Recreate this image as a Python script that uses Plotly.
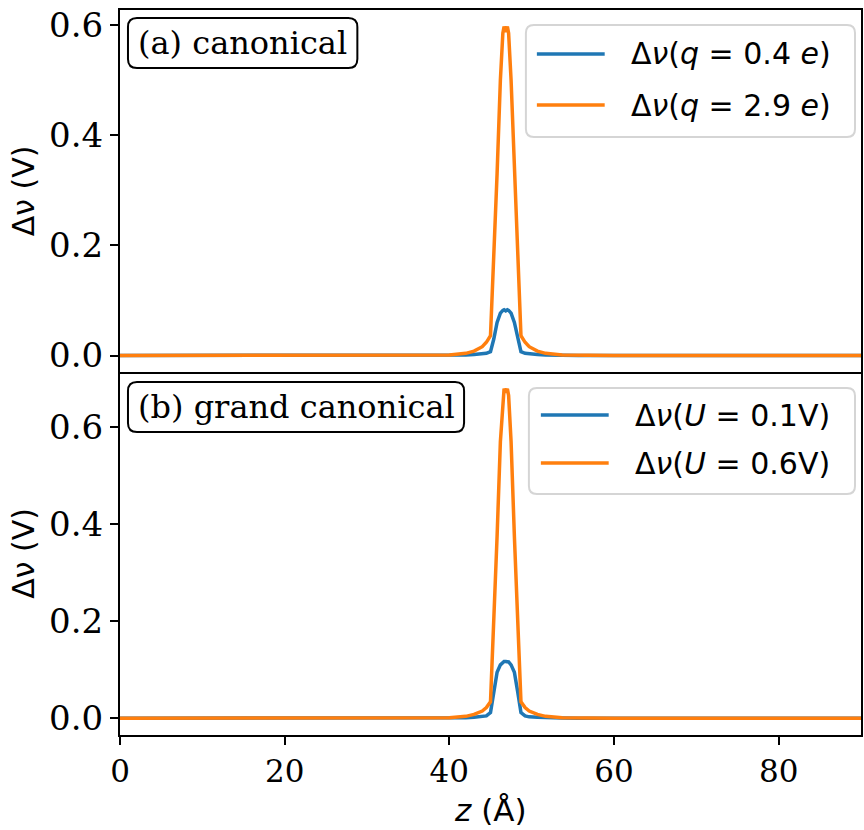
import plotly.graph_objects as go
from plotly.subplots import make_subplots

# ---------------- data ----------------
z = [0, 30, 38, 40, 42, 43, 44, 44.5, 45.0, 45.4, 45.8, 46.2, 46.5, 46.65, 46.85,
     47.05, 47.2, 47.5, 47.9, 48.3, 48.7, 49.2, 49.7, 50.7, 51.7, 53.7, 55.7, 60, 90]

dv_q04 = [0, 0, 0, 0.0003, 0.001, 0.002, 0.003, 0.004, 0.007, 0.03, 0.06, 0.077, 0.082,
          0.083, 0.081, 0.083, 0.082, 0.077, 0.06, 0.03, 0.007, 0.004, 0.003, 0.002,
          0.001, 0.0003, 0, 0, 0]
dv_q29 = [0, 0, 0.0003, 0.001, 0.004, 0.008, 0.016, 0.024, 0.036, 0.17, 0.33, 0.50,
          0.585, 0.597, 0.587, 0.597, 0.585, 0.50, 0.33, 0.17, 0.036, 0.024, 0.016,
          0.008, 0.004, 0.001, 0.0003, 0, 0]
dv_U01 = [0, 0, 0, 0.0005, 0.001, 0.002, 0.003, 0.005, 0.012, 0.055, 0.095, 0.11,
          0.116, 0.117, 0.117, 0.117, 0.116, 0.11, 0.095, 0.055, 0.012, 0.005, 0.003,
          0.002, 0.001, 0.0005, 0, 0, 0]
dv_U06 = [0, 0, 0.0003, 0.001, 0.004, 0.008, 0.015, 0.022, 0.034, 0.19, 0.375, 0.57,
          0.665, 0.679, 0.671, 0.679, 0.665, 0.57, 0.375, 0.19, 0.034, 0.022, 0.015,
          0.008, 0.004, 0.001, 0.0003, 0, 0]

labels_a = ["Δ<i>ν</i>(<i>q</i> = 0.4 <i>e</i>)", "Δ<i>ν</i>(<i>q</i> = 2.9 <i>e</i>)"]
labels_b = ["Δ<i>ν</i>(<i>U</i> = 0.1V)", "Δ<i>ν</i>(<i>U</i> = 0.6V)"]
panel_titles = ["(a) canonical", "(b) grand canonical"]
y_ticks = [0.0, 0.2, 0.4, 0.6]
x_ticks = [0, 20, 40, 60, 80]

BLUE = "#1f77b4"
ORANGE = "#ff7f0e"

# ---------------- geometry (page pixels) ----------------
W, H = 864, 830
PL, PR, PT, PB = 120, 863, 10, 735          # plot area in page pixels
L, T, R, B = PL, PT, W - PR, H - PB
PW, PH = PR - PL, PB - PT


def px(xp):
    return (xp - PL) / PW


def py(yp):
    return (PB - yp) / PH


def rounded_box(x0, y0, x1, y1, r):
    rx, ry = r / PW, r / PH
    X0, X1 = px(x0), px(x1)
    Ytop, Ybot = py(y0), py(y1)
    return (f"M {X0+rx},{Ytop} L {X1-rx},{Ytop} Q {X1},{Ytop} {X1},{Ytop-ry} "
            f"L {X1},{Ybot+ry} Q {X1},{Ybot} {X1-rx},{Ybot} "
            f"L {X0+rx},{Ybot} Q {X0},{Ybot} {X0},{Ybot+ry} "
            f"L {X0},{Ytop-ry} Q {X0},{Ytop} {X0+rx},{Ytop} Z")


split = py(372)

fig = make_subplots(rows=2, cols=1, shared_xaxes=True, vertical_spacing=0)

fig.add_trace(go.Scatter(x=z, y=dv_q04, mode="lines", line=dict(color=BLUE, width=3.5),
                         showlegend=False), row=1, col=1)
fig.add_trace(go.Scatter(x=z, y=dv_q29, mode="lines", line=dict(color=ORANGE, width=3.5),
                         showlegend=False), row=1, col=1)
fig.add_trace(go.Scatter(x=z, y=dv_U01, mode="lines", line=dict(color=BLUE, width=3.5),
                         showlegend=False), row=2, col=1)
fig.add_trace(go.Scatter(x=z, y=dv_U06, mode="lines", line=dict(color=ORANGE, width=3.5),
                         showlegend=False), row=2, col=1)

axis_common = dict(showgrid=False, zeroline=False, showline=True, linecolor="black",
                   linewidth=2, tickcolor="black", tickwidth=2, ticklen=8)
yfont = dict(family="DejaVu Serif", size=34, color="black")
xfont = dict(family="DejaVu Serif", size=31, color="black")

fig.update_layout(
    width=W, height=H,
    margin=dict(l=L, r=R, t=T, b=B, pad=0),
    paper_bgcolor="white", plot_bgcolor="white",
    showlegend=False,
    xaxis=dict(axis_common, range=[0, 90], domain=[0, 1], ticks="", showticklabels=False,
               tickvals=x_ticks, mirror=True),
    xaxis2=dict(axis_common, range=[0, 90], domain=[0, 1], ticks="outside",
                tickvals=x_ticks, mirror=False, tickfont=xfont),
    yaxis=dict(axis_common, range=[-0.0299, 0.627], domain=[split, 1], ticks="outside",
               tickvals=y_ticks, tickformat=".1f", mirror=True, tickfont=yfont),
    yaxis2=dict(axis_common, range=[-0.0344, 0.7134], domain=[0, split], ticks="outside",
                tickvals=y_ticks, tickformat=".1f", mirror=True, tickfont=yfont),
)

shapes = []
annotations = []

# panel label boxes
for (x0, y0, x1, y1), text in zip([(128, 18, 358, 68), (128, 382, 465, 432)], panel_titles):
    shapes.append(dict(type="path", xref="paper", yref="paper",
                       path=rounded_box(x0, y0, x1, y1, 9),
                       line=dict(color="black", width=2), fillcolor="white"))
    annotations.append(dict(xref="paper", yref="paper", x=px((x0 + x1) / 2),
                            y=py((y0 + y1) / 2), text=text, showarrow=False,
                            xanchor="center", yanchor="middle",
                            font=dict(family="DejaVu Serif", size=32, color="black")))

# legends (drawn manually)
legend_specs = [
    ((527, 25, 857, 137), [54, 105], 538, 606, 630, labels_a),
    ((530, 388, 857, 494), [415, 463], 542, 610, 634, labels_b),
]
for (x0, y0, x1, y1), ys, lx0, lx1, tx, labs in legend_specs:
    shapes.append(dict(type="path", xref="paper", yref="paper",
                       path=rounded_box(x0, y0, x1, y1, 8),
                       line=dict(color="#d5d5d5", width=2), fillcolor="rgba(255,255,255,0.8)"))
    for yy, col, lab in zip(ys, [BLUE, ORANGE], labs):
        shapes.append(dict(type="line", xref="paper", yref="paper",
                           x0=px(lx0), x1=px(lx1), y0=py(yy), y1=py(yy),
                           line=dict(color=col, width=3.5)))
        annotations.append(dict(xref="paper", yref="paper", x=px(tx), y=py(yy),
                                text=lab, showarrow=False, xanchor="left",
                                yanchor="middle",
                                font=dict(family="DejaVu Sans", size=30, color="black")))

# axis titles
for yc in [(10 + 372) / 2, (372 + 735) / 2]:
    annotations.append(dict(xref="paper", yref="paper", x=px(23), y=py(yc),
                            text="Δν (V)", textangle=-90, showarrow=False,
                            xanchor="center", yanchor="middle",
                            font=dict(family="DejaVu Sans", size=30, color="black")))
annotations.append(dict(xref="paper", yref="paper", x=px(491), y=py(810),
                        text="<i>z</i> (Å)", showarrow=False, xanchor="center",
                        yanchor="middle",
                        font=dict(family="DejaVu Sans", size=31, color="black")))

fig.update_layout(shapes=shapes, annotations=annotations)
fig.write_html("out.html", config={"displayModeBar": False},
               post_script="document.body.style.margin='0';document.body.style.overflow='hidden';")
